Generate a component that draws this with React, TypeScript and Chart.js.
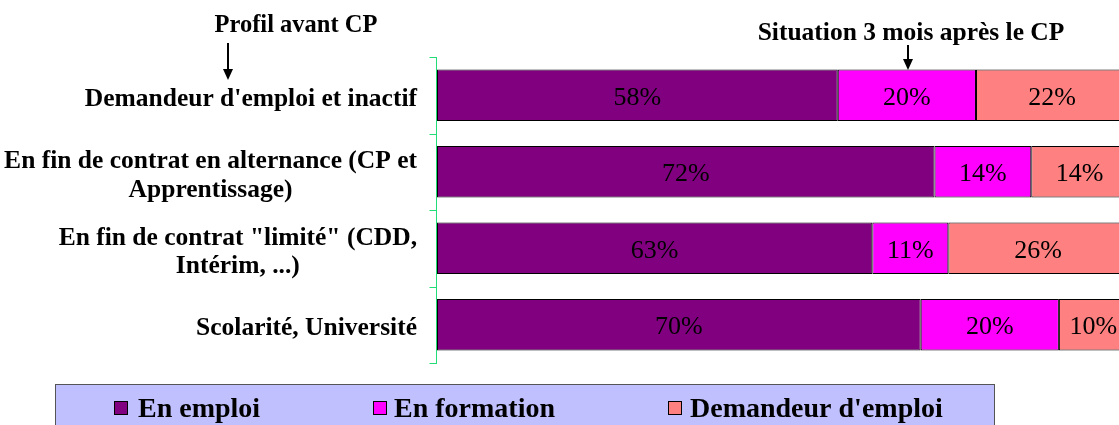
import React, { useEffect, useRef } from "react";
import { Chart, registerables } from "chart.js";

Chart.register(...registerables);

// ---- data ----
const categories: string[][] = [
  ["Demandeur d'emploi et inactif"],
  ["En fin de contrat en alternance (CP et", "Apprentissage)"],
  ['En fin de contrat "limité" (CDD,', "Intérim, ...)"],
  ["Scolarité, Université"],
];
const seriesNames = ["En emploi", "En formation", "Demandeur d'emploi"];
const enEmploi = [58, 72, 63, 70];
const enFormation = [20, 14, 11, 20];
const demandeurEmploi = [22, 14, 26, 10];
const seriesColors = ["#800080", "#FF00FF", "#FF8080"];
const annotationLeft = "Profil avant CP";
const annotationRight = "Situation 3 mois après le CP";

const FONT = "'Liberation Serif', 'Times New Roman', serif";
const AXIS_COLOR = "#22DD77";

const axisPlugin = {
  id: "greenAxis",
  afterDatasetsDraw(chart: any) {
    const ctx = chart.ctx;
    const y = chart.scales.y;
    const area = chart.chartArea;
    const x = Math.round(area.left) - 0.5;
    const band = y.getPixelForValue(1) - y.getPixelForValue(0);
    ctx.save();
    ctx.strokeStyle = AXIS_COLOR;
    ctx.lineWidth = 1;
    ctx.beginPath();
    ctx.moveTo(x, Math.round(area.top));
    ctx.lineTo(x, Math.round(area.bottom) + 1);
    for (let i = 0; i <= categories.length; i++) {
      const ty = Math.round(y.getPixelForValue(i) - band / 2) + 0.5;
      ctx.moveTo(x - 7, ty);
      ctx.lineTo(x, ty);
    }
    ctx.stroke();
    ctx.restore();
  },
};

const labelsPlugin = {
  id: "yLabels",
  afterDraw(chart: any) {
    const ctx = chart.ctx;
    const y = chart.scales.y;
    ctx.save();
    ctx.fillStyle = "#000";
    ctx.font = `bold 25.5px ${FONT}`;
    ctx.textBaseline = "alphabetic";
    ctx.textAlign = "center";
    const right = 417;
    const lineH = 28.5;
    categories.forEach((lines, i) => {
      const cy = y.getPixelForValue(i) + 2;
      const maxW = Math.max(...lines.map((l) => ctx.measureText(l).width));
      const cx = right - maxW / 2;
      const n = lines.length;
      lines.forEach((l, j) => {
        const capCenter = cy + (j - (n - 1) / 2) * lineH;
        ctx.fillText(l, cx, capCenter + 8.5);
      });
    });
    ctx.restore();
  },
};

const valueLabelsPlugin = {
  id: "valueLabels",
  afterDatasetsDraw(chart: any) {
    const ctx = chart.ctx;
    ctx.save();
    ctx.fillStyle = "#000";
    ctx.font = `26px ${FONT}`;
    ctx.textAlign = "center";
    ctx.textBaseline = "alphabetic";
    chart.data.datasets.forEach((ds: any, di: number) => {
      const meta = chart.getDatasetMeta(di);
      meta.data.forEach((el: any, i: number) => {
        const p = el.getProps(["x", "y", "base"], true);
        const cx = (p.x + p.base) / 2;
        ctx.fillText(`${ds.data[i]}%`, cx, p.y + 9.5);
      });
    });
    ctx.restore();
  },
};

function arrow(ctx: CanvasRenderingContext2D, x: number, y1: number, y2: number) {
  ctx.beginPath();
  ctx.moveTo(x, y1);
  ctx.lineTo(x, y2 - 10);
  ctx.lineWidth = 2;
  ctx.strokeStyle = "#000";
  ctx.stroke();
  ctx.beginPath();
  ctx.moveTo(x - 5, y2 - 11);
  ctx.lineTo(x + 5, y2 - 11);
  ctx.lineTo(x, y2);
  ctx.closePath();
  ctx.fillStyle = "#000";
  ctx.fill();
}

const annotationPlugin = {
  id: "annotations",
  afterDraw(chart: any) {
    const ctx = chart.ctx;
    ctx.save();
    ctx.fillStyle = "#000";
    ctx.textAlign = "center";
    ctx.textBaseline = "alphabetic";
    ctx.font = `bold 24.5px ${FONT}`;
    ctx.fillText(annotationLeft, 296, 32);
    ctx.font = `bold 25.5px ${FONT}`;
    ctx.fillText(annotationRight, 911, 40);
    arrow(ctx, 228, 43, 80);
    arrow(ctx, 908, 45, 70);
    ctx.restore();
  },
};

const legendPlugin = {
  id: "boxLegend",
  afterDraw(chart: any) {
    const ctx = chart.ctx;
    ctx.save();
    ctx.fillStyle = "#C0C0FF";
    ctx.fillRect(55, 384, 940, 60);
    ctx.strokeStyle = "#555555";
    ctx.lineWidth = 1;
    ctx.strokeRect(55.5, 384.5, 939, 60);
    const sq = [114, 373, 668];
    const tx = [138, 394, 690];
    ctx.font = `bold 28px ${FONT}`;
    ctx.textAlign = "left";
    ctx.textBaseline = "alphabetic";
    chart.data.datasets.forEach((ds: any, i: number) => {
      ctx.fillStyle = ds.backgroundColor;
      ctx.fillRect(sq[i], 401, 14, 14);
      ctx.strokeStyle = "#000";
      ctx.strokeRect(sq[i] + 0.5, 401.5, 13, 13);
      ctx.fillStyle = "#000";
      ctx.fillText(ds.label, tx[i], 417);
    });
    ctx.restore();
  },
};

export default function App() {
  const ref = useRef<HTMLCanvasElement>(null);
  useEffect(() => {
    if (!ref.current) return;
    const chart = new Chart(ref.current, {
      type: "bar",
      data: {
        labels: categories.map((c) => c.join(" ")),
        datasets: [enEmploi, enFormation, demandeurEmploi].map((d, i) => ({
          label: seriesNames[i],
          data: d,
          backgroundColor: seriesColors[i],
          borderColor: "#000",
          borderWidth: 1,
          borderSkipped: false,
          barPercentage: 0.67,
          categoryPercentage: 1,
        })),
      },
      options: {
        indexAxis: "y",
        responsive: false,
        animation: false,
        devicePixelRatio: 1,
        layout: { padding: { left: 437, right: 2, top: 57, bottom: 62 } },
        plugins: { legend: { display: false }, tooltip: { enabled: false } },
        scales: {
          x: { stacked: true, min: 0, max: 100, display: false },
          y: { stacked: true, display: false },
        },
      },
      plugins: [axisPlugin, valueLabelsPlugin, labelsPlugin, annotationPlugin, legendPlugin],
    } as any);
    return () => chart.destroy();
  }, []);
  return (
    <div
      style={{
        position: "fixed",
        left: 0,
        top: 0,
        width: 1119,
        height: 425,
        overflow: "hidden",
        background: "#fff",
      }}
    >
      <canvas ref={ref} width={1130} height={425} style={{ display: "block" }} />
    </div>
  );
}
